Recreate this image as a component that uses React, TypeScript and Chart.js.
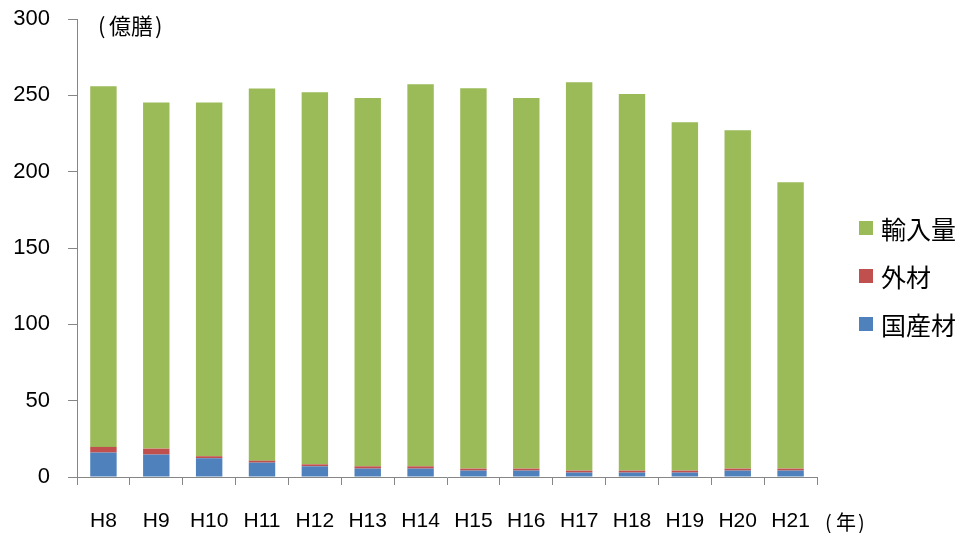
import React, { useEffect, useRef } from 'react';
import { Chart, registerables } from 'chart.js';

Chart.register(...registerables);

const categories = ['H8', 'H9', 'H10', 'H11', 'H12', 'H13', 'H14', 'H15', 'H16', 'H17', 'H18', 'H19', 'H20', 'H21'];
const domesticWood = [16.0, 14.7, 12.3, 9.4, 7.0, 5.5, 5.5, 4.2, 4.2, 2.9, 2.9, 2.9, 4.2, 4.2];
const foreignWood = [3.7, 3.9, 1.3, 1.3, 1.3, 1.5, 1.5, 1.3, 1.3, 1.3, 1.3, 1.3, 1.3, 1.3];
const importVolume = [236.3, 226.7, 231.7, 243.8, 243.8, 241.2, 250.3, 249.2, 242.7, 254.4, 246.6, 228.2, 221.7, 187.6];
const seriesNames = ['国産材', '外材', '輸入量'];
const seriesColors = ['#4F81BD', '#C0504D', '#9BBB59'];
const yMin = 0;
const yMax = 300;
const yStep = 50;
const yUnitText = '億膳';
const xUnitText = '年';

const LATIN = "'Liberation Sans', 'Noto Sans CJK JP', sans-serif";
const CJK = "'Noto Sans CJK JP', 'Liberation Sans', sans-serif";
const AXIS_GRAY = '#868686';

function drawParenLabel(ctx: any, text: string, x: number, cy: number, size: number, gapBefore: number, gapAfter: number) {
  ctx.font = `${size}px ${CJK}`;
  ctx.fillText('(', x, cy);
  const tx = x + gapBefore;
  ctx.fillText(text, tx, cy);
  const w = ctx.measureText(text).width;
  ctx.fillText(')', tx + w + gapAfter, cy);
}

const overlayPlugin = {
  id: 'overlay',
  afterDraw(chart: any) {
    const ctx = chart.ctx;
    ctx.save();
    ctx.fillStyle = '#000';
    ctx.textBaseline = 'middle';
    ctx.textAlign = 'left';
    drawParenLabel(ctx, yUnitText, 98, 26, 22, 11, 2);
    drawParenLabel(ctx, xUnitText, 825, 522, 20, 11, 2);
    // legend (reversed order)
    const ds = chart.data.datasets;
    ctx.font = `25px ${CJK}`;
    for (let j = 0; j < ds.length; j++) {
      const d = ds[ds.length - 1 - j];
      const cy = 228 + j * 48;
      ctx.fillStyle = d.backgroundColor;
      ctx.fillRect(859, cy - 7, 14, 14);
      ctx.fillStyle = '#000';
      ctx.fillText(d.label, 881, cy + 1);
    }
    ctx.restore();
  },
};

export default function App() {
  const ref = useRef<HTMLCanvasElement | null>(null);
  useEffect(() => {
    if (!ref.current) return;
    const chart = new Chart(ref.current, {
      type: 'bar',
      data: {
        labels: categories,
        datasets: [
          { label: seriesNames[0], data: domesticWood, backgroundColor: seriesColors[0] },
          { label: seriesNames[1], data: foreignWood, backgroundColor: seriesColors[1] },
          { label: seriesNames[2], data: importVolume, backgroundColor: seriesColors[2] },
        ].map((d) => ({ ...d, borderWidth: 0, barPercentage: 0.5, categoryPercentage: 1 })),
      },
      options: {
        responsive: false,
        animation: false,
        layout: { padding: { top: 19, right: 143, left: 0, bottom: 0 } },
        plugins: {
          legend: { display: false },
          tooltip: { enabled: false },
          title: { display: false },
        },
        scales: {
          x: {
            stacked: true,
            grid: {
              display: true,
              offset: true,
              drawOnChartArea: false,
              drawTicks: true,
              tickLength: 8,
              color: AXIS_GRAY,
            },
            border: { display: true, color: AXIS_GRAY, width: 1 },
            ticks: {
              color: '#000',
              font: { family: LATIN, size: 21 },
              padding: 24,
              maxRotation: 0,
              autoSkip: false,
            },
            afterFit(scale: any) {
              scale.height = 56;
              scale.paddingLeft = 0;
              scale.paddingRight = 0;
            },
          },
          y: {
            stacked: true,
            min: yMin,
            max: yMax,
            grid: {
              display: true,
              drawOnChartArea: false,
              drawTicks: true,
              tickLength: 9,
              color: AXIS_GRAY,
            },
            border: { display: true, color: AXIS_GRAY, width: 1 },
            ticks: {
              stepSize: yStep,
              color: '#000',
              font: { family: LATIN, size: 22 },
              padding: 18,
            },
            afterFit(scale: any) {
              scale.width = 77;
              scale.paddingTop = 0;
              scale.paddingBottom = 0;
            },
          },
        },
      },
      plugins: [overlayPlugin],
    });
    return () => chart.destroy();
  }, []);
  return (
    <div style={{ position: 'absolute', left: 0, top: 0, width: 960, height: 533, background: '#fff' }}>
      <canvas ref={ref} width={960} height={533} />
    </div>
  );
}
